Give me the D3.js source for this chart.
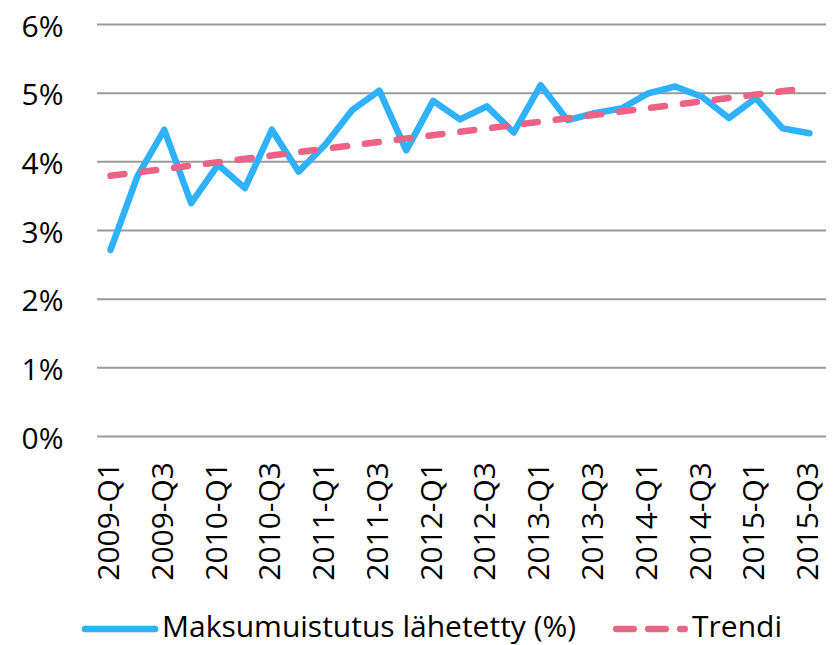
<!DOCTYPE html>
<html>
<head>
<meta charset="utf-8">
<script src="https://cdn.jsdelivr.net/npm/d3@7"></script>
<style>
  body { margin: 0; background: #fff; }
  text { font-family: "Open Sans", sans-serif; fill: #000; }
</style>
</head>
<body>
<script>
const categories = [
  '2009-Q1', '2009-Q2', '2009-Q3', '2009-Q4',
  '2010-Q1', '2010-Q2', '2010-Q3', '2010-Q4',
  '2011-Q1', '2011-Q2', '2011-Q3', '2011-Q4',
  '2012-Q1', '2012-Q2', '2012-Q3', '2012-Q4',
  '2013-Q1', '2013-Q2', '2013-Q3', '2013-Q4',
  '2014-Q1', '2014-Q2', '2014-Q3', '2014-Q4',
  '2015-Q1', '2015-Q2', '2015-Q3'
];
const reminderValues = [
  2.71, 3.78, 4.46, 3.39,
  3.95, 3.61, 4.46, 3.85,
  4.25, 4.75, 5.03, 4.16,
  4.88, 4.61, 4.80, 4.42,
  5.11, 4.60, 4.70, 4.77,
  4.99, 5.09, 4.94, 4.63,
  4.92, 4.48, 4.41
];
// trend line read at its two ends
const trendCategories = ['2009-Q1', '2015-Q3'];
const trendValues = [3.79, 5.07];
const yTicks = [0, 1, 2, 3, 4, 5, 6];
const seriesNames = ['Maksumuistutus lähetetty (%)', 'Trendi'];

const width = 836;
const height = 645;
const plotLeft = 97;
const plotRight = 826;
const blue = '#2fb1fd';
const pink = '#ec6385';

const svg = d3.select('body').append('svg')
  .attr('width', width)
  .attr('height', height);

const x = d3.scalePoint().domain(categories).range([110.5, 809.5]);
const y = d3.scaleLinear().domain([0, 6]).range([436, 24]);

// y axis with gridlines
const yAxis = svg.append('g')
  .attr('transform', `translate(${plotLeft}, 0)`)
  .call(d3.axisLeft(y)
    .tickValues(yTicks)
    .tickFormat((d) => d + '%')
    .tickSize(-(plotRight - plotLeft))
    .tickPadding(33.5));
yAxis.select('.domain').remove();
yAxis.selectAll('line').attr('stroke', '#9a9a9a').attr('stroke-width', 2);
yAxis.selectAll('text')
  .attr('dy', '0.4em')
  .style('font-size', '30px');

// x axis, every second quarter labelled
const xAxis = svg.append('g')
  .attr('transform', `translate(0, ${y(0)})`)
  .call(d3.axisBottom(x)
    .tickValues(categories.filter((d, i) => i % 2 === 0))
    .tickSize(0));
xAxis.select('.domain').remove();
xAxis.selectAll('text')
  .attr('transform', 'translate(0, 26) rotate(-90)')
  .attr('x', 0)
  .attr('y', 0)
  .attr('dy', '0.27em')
  .attr('text-anchor', 'end')
  .style('font-size', '30px');

const line = d3.line()
  .x((d) => x(d.cat))
  .y((d) => y(d.value));

svg.append('path')
  .datum(categories.map((cat, i) => ({ cat, value: reminderValues[i] })))
  .attr('fill', 'none')
  .attr('stroke', blue)
  .attr('stroke-width', 6.5)
  .attr('stroke-linejoin', 'round')
  .attr('stroke-linecap', 'round')
  .attr('d', line);

svg.append('path')
  .datum(trendCategories.map((cat, i) => ({ cat, value: trendValues[i] })))
  .attr('fill', 'none')
  .attr('stroke', pink)
  .attr('stroke-width', 6.5)
  .attr('stroke-linecap', 'round')
  .attr('stroke-dasharray', '14,18.05')
  .attr('d', line);

// legend
const legend = svg.append('g');
legend.append('line')
  .attr('x1', 85).attr('x2', 155)
  .attr('y1', 629).attr('y2', 629)
  .attr('stroke', blue)
  .attr('stroke-width', 6.5)
  .attr('stroke-linecap', 'round');
legend.append('text')
  .attr('x', 162).attr('y', 637)
  .style('font-size', '30px')
  .text(seriesNames[0]);
legend.append('line')
  .attr('x1', 616.25).attr('x2', 684.75)
  .attr('y1', 629).attr('y2', 629)
  .attr('stroke', pink)
  .attr('stroke-width', 6.5)
  .attr('stroke-linecap', 'round')
  .attr('stroke-dasharray', '17.5,14.5');
legend.append('text')
  .attr('x', 692).attr('y', 637)
  .style('font-size', '30px')
  .text(seriesNames[1]);
</script>
</body>
</html>
